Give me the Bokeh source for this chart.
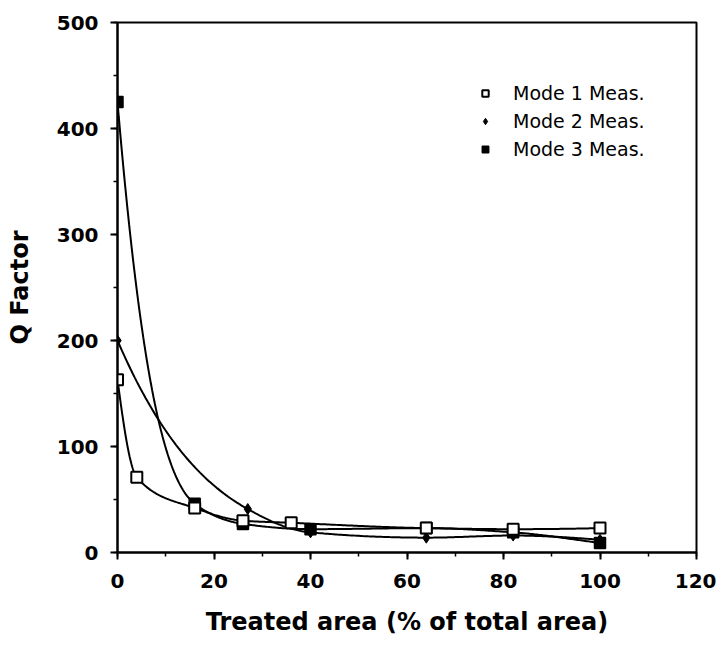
import numpy as np
from bokeh.plotting import figure
from bokeh.models import Range1d, Legend, LegendItem, FixedTicker
from bokeh.embed import file_html
from bokeh.resources import INLINE

# ---- data ----
mode1_x = [0, 4, 16, 26, 36, 64, 82, 100]
mode1_y = [163, 71, 42, 30, 28, 23, 22, 23]
mode2_x = [0, 27, 40, 64, 82, 100]
mode2_y = [200, 41, 19, 14, 16, 12]
mode3_x = [0, 16, 26, 40, 64, 82, 100]
mode3_y = [425, 46, 27, 22, 23, 19, 9]
labels = ["Mode 1 Meas.", "Mode 2 Meas.", "Mode 3 Meas."]
x_ticks = [0, 20, 40, 60, 80, 100, 120]
y_ticks = [0, 100, 200, 300, 400, 500]

FONT = "DejaVu Sans"


def smooth(x, y, n=60):
    """Monotone cubic (PCHIP) smoothing, done on sqrt(y), used only to draw the
    curve through the measured points (as the original plotting program did)."""
    x = np.asarray(x, float)
    y = np.sqrt(np.asarray(y, float))
    h = np.diff(x)
    d = np.diff(y) / h
    m = np.zeros_like(y)
    for k in range(1, len(x) - 1):
        if d[k - 1] * d[k] > 0:
            w1 = 2 * h[k] + h[k - 1]
            w2 = h[k] + 2 * h[k - 1]
            m[k] = (w1 + w2) / (w1 / d[k - 1] + w2 / d[k])
    def end(h0, h1, d0, d1):
        s = ((2 * h0 + h1) * d0 - h0 * d1) / (h0 + h1)
        if np.sign(s) != np.sign(d0):
            s = 0.0
        elif np.sign(d0) != np.sign(d1) and abs(s) > abs(3 * d0):
            s = 3 * d0
        return s
    m[0] = end(h[0], h[1], d[0], d[1])
    m[-1] = end(h[-1], h[-2], d[-1], d[-2])
    xs, ys = [], []
    for k in range(len(x) - 1):
        t = np.linspace(0, 1, n, endpoint=(k == len(x) - 2))
        h00 = 2 * t**3 - 3 * t**2 + 1
        h10 = t**3 - 2 * t**2 + t
        h01 = -2 * t**3 + 3 * t**2
        h11 = t**3 - t**2
        xs.extend(x[k] + t * h[k])
        ys.extend(h00 * y[k] + h10 * h[k] * m[k] + h01 * y[k + 1] + h11 * h[k] * m[k + 1])
    return list(xs), list(np.asarray(ys) ** 2)


p = figure(width=716, height=647, output_backend="svg", toolbar_location=None,
           x_range=Range1d(0, 120), y_range=Range1d(0, 500),
           min_border_left=117, min_border_right=20, min_border_top=22, min_border_bottom=95)
p.background_fill_color = "white"
p.border_fill_color = "white"
p.outline_line_color = "black"
p.outline_line_width = 2
p.grid.visible = False

for ax in (p.xaxis[0], p.yaxis[0]):
    ax.axis_line_width = 2
    ax.major_tick_line_width = 2
    ax.minor_tick_line_width = 1.5
    ax.major_tick_out = 7
    ax.major_tick_in = 0
    ax.minor_tick_out = 4
    ax.minor_tick_in = 0
    ax.major_label_text_font = FONT
    ax.major_label_text_font_style = "bold"
    ax.major_label_text_color = "black"
    ax.axis_label_text_font = FONT
    ax.axis_label_text_font_style = "bold"
    ax.axis_label_text_color = "black"

p.xaxis.ticker = FixedTicker(ticks=x_ticks, minor_ticks=list(range(0, 121, 10)))
p.yaxis.ticker = FixedTicker(ticks=y_ticks, minor_ticks=list(range(0, 501, 50)))
p.xaxis.major_label_text_font_size = "20px"
p.yaxis.major_label_text_font_size = "20px"
p.xaxis.major_label_standoff = 14
p.yaxis.major_label_standoff = 12
p.xaxis.axis_label = "Treated area (% of total area)"
p.yaxis.axis_label = "Q Factor"
p.xaxis.axis_label_text_font_size = "24px"
p.yaxis.axis_label_text_font_size = "24px"
p.xaxis.axis_label_standoff = 17
p.yaxis.axis_label_standoff = 20

# smoothed curves through the measured points
for xs_, ys_ in ((mode1_x, mode1_y), (mode2_x, mode2_y), (mode3_x, mode3_y)):
    cx, cy = smooth(xs_, ys_)
    p.line(cx, cy, line_color="black", line_width=2)

r3 = p.scatter(mode3_x, mode3_y, marker="square", size=11, fill_color="black",
               line_color="black", line_width=1.5)
r2 = p.scatter(mode2_x, mode2_y, marker="diamond", size=11, fill_color="black",
               line_color="black", line_width=1)
r1 = p.scatter(mode1_x, mode1_y, marker="square", size=11, fill_color="white",
               line_color="black", line_width=2)

legend = Legend(items=[LegendItem(label=labels[0], renderers=[r1]),
                       LegendItem(label=labels[1], renderers=[r2]),
                       LegendItem(label=labels[2], renderers=[r3])],
                location=(360, 389), border_line_color=None, background_fill_alpha=0,
                label_text_font=FONT, label_text_font_size="19px",
                label_text_color="black",
                glyph_width=16, glyph_height=28, label_height=28, spacing=0,
                label_standoff=20, padding=0, margin=0)
p.add_layout(legend)

open("out.html", "w").write(file_html(p, INLINE))
